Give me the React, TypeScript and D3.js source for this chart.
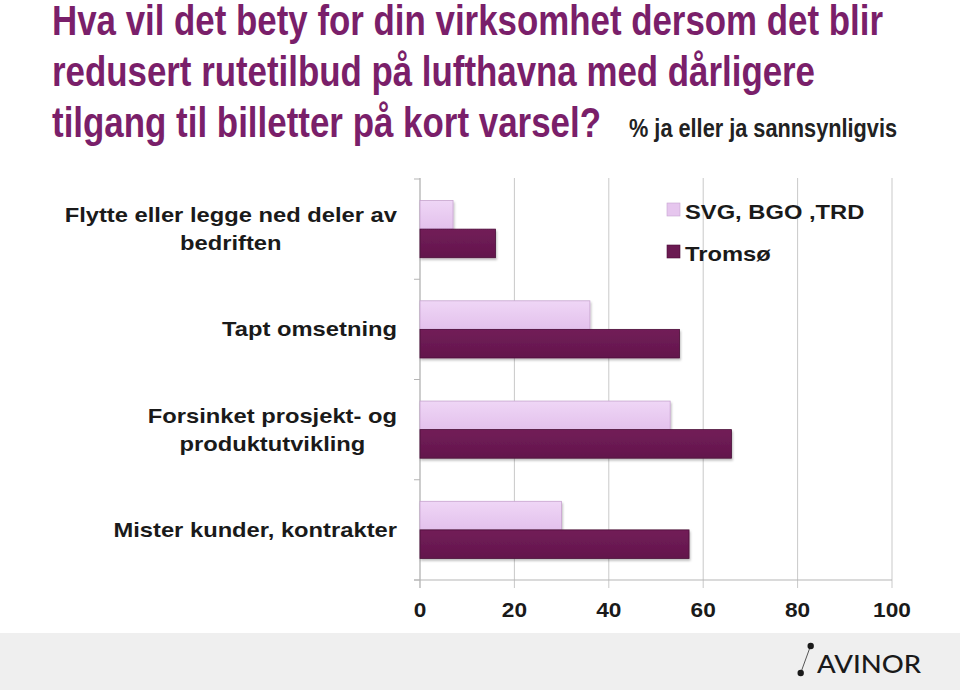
import React from "react";
import * as d3 from "d3";

const titleLines = [
  "Hva vil det bety for din virksomhet dersom det blir",
  "redusert rutetilbud på lufthavna med dårligere",
  "tilgang til billetter på kort varsel?",
];
const subtitle = "% ja eller ja sannsynligvis";
const categories = [
  "Flytte eller legge ned deler av\nbedriften",
  "Tapt omsetning",
  "Forsinket prosjekt- og\nproduktutvikling",
  "Mister kunder, kontrakter",
];
const seriesNames = ["SVG, BGO ,TRD", "Tromsø"];
const svgBgoTrd = [7, 36, 53, 30];
const tromso = [16, 55, 66, 57];
const xTicks = [0, 20, 40, 60, 80, 100];

const W = 960;
const H = 690;
const LABEL_FONT = "bold 21px 'Liberation Sans', Arial, Helvetica, sans-serif";
const FONT = "'Liberation Sans', Arial, Helvetica, sans-serif";
const NARROW = "'Liberation Sans Narrow', 'Arial Narrow', 'Liberation Sans', Arial, sans-serif";
const STRETCH = 1.13;

const measure = (() => {
  let ctx: CanvasRenderingContext2D | null = null;
  return (t: string) => {
    if (!ctx) {
      const c = document.createElement("canvas");
      ctx = c.getContext("2d");
    }
    if (!ctx) return t.length * 11;
    ctx.font = LABEL_FONT;
    return ctx.measureText(t).width;
  };
})();

export default function App() {
  const x = d3.scaleLinear().domain([0, 100]).range([420, 892]);
  const y = d3
    .scaleBand<number>()
    .domain(d3.range(categories.length))
    .range([179, 580])
    .paddingInner(0.43)
    .paddingOuter(0.215);
  const sub = d3.scaleBand<number>().domain([0, 1]).range([0, y.bandwidth()]);
  const step = y.step();
  const bandEdges = d3.range(categories.length + 1).map((i) => 179 + i * step);
  const series = [svgBgoTrd, tromso];
  const fills = ["url(#gLight)", "url(#gDark)"];
  const strokes = ["#c7a3cf", "#4a0d38"];
  const legendFills = ["#e6c6ee", "#6b1a52"];

  const titleWidths = [831, 763, 549];
  const titleBaselines = [35, 86, 137];

  return (
    <svg
      width={W}
      height={H}
      style={{ position: "absolute", left: 0, top: 0, background: "#fff" }}
    >
      <defs>
        <linearGradient id="gLight" x1="0" y1="0" x2="0" y2="1">
          <stop offset="0" stopColor="#efd6f6" />
          <stop offset="1" stopColor="#e3c1ec" />
        </linearGradient>
        <linearGradient id="gDark" x1="0" y1="0" x2="0" y2="1">
          <stop offset="0" stopColor="#721d58" />
          <stop offset="1" stopColor="#63164c" />
        </linearGradient>
        <filter id="shadow" x="-5%" y="-20%" width="115%" height="160%">
          <feDropShadow dx="1" dy="2" stdDeviation="1.2" floodColor="#000" floodOpacity="0.25" />
        </filter>
      </defs>

      {titleLines.map((t, i) => (
        <text
          key={i}
          x={52}
          y={titleBaselines[i]}
          fontFamily={NARROW}
          fontWeight="bold"
          fontSize={42}
          fill="#7a1f6a"
          textLength={titleWidths[i]}
          lengthAdjust="spacingAndGlyphs"
        >
          {t}
        </text>
      ))}
      <text
        x={629}
        y={137}
        fontFamily={NARROW}
        fontWeight="bold"
        fontSize={25}
        fill="#222"
        textLength={268}
        lengthAdjust="spacingAndGlyphs"
      >
        {subtitle}
      </text>

      {/* gridlines */}
      {xTicks.map((t) => (
        <line key={t} x1={x(t)} x2={x(t)} y1={178} y2={588} stroke="#c9c9c9" strokeWidth={1} />
      ))}
      {/* y axis */}
      <line x1={x(0)} x2={x(0)} y1={178} y2={588} stroke="#b5b5b5" strokeWidth={1} />
      {bandEdges.map((e, i) => (
        <line key={i} x1={414} x2={x(0)} y1={e} y2={e} stroke="#b5b5b5" strokeWidth={1} />
      ))}
      {/* x axis */}
      <line x1={414} x2={x(100)} y1={580} y2={580} stroke="#b5b5b5" strokeWidth={1} />

      {/* bars */}
      {categories.map((c, ci) =>
        series.map((s, si) => (
          <rect
            key={`${ci}-${si}`}
            x={x(0)}
            y={(y(ci) as number) + (sub(si) as number)}
            width={x(s[ci]) - x(0)}
            height={sub.bandwidth()}
            fill={fills[si]}
            stroke={strokes[si]}
            strokeWidth={0.8}
            filter="url(#shadow)"
          />
        ))
      )}

      {/* category labels */}
      {categories.map((c, ci) => {
        const lines = c.split("\n");
        const widths = lines.map((l) => measure(l) * STRETCH);
        const maxW = Math.max(...widths);
        const cx = 397 - maxW / 2;
        const center = (y(ci) as number) + y.bandwidth() / 2;
        const lh = 28;
        const y0 = center + 7 - ((lines.length - 1) * lh) / 2;
        return (
          <g key={ci}>
            {lines.map((l, li) => (
              <text
                key={li}
                x={cx - widths[li] / 2}
                y={y0 + li * lh}
                fontFamily={FONT}
                fontWeight="bold"
                fontSize={21}
                fill="#1a1a1a"
                textLength={widths[li]}
                lengthAdjust="spacingAndGlyphs"
              >
                {l}
              </text>
            ))}
          </g>
        );
      })}

      {/* tick labels */}
      {xTicks.map((t) => {
        const w = measure(String(t)) * 1.08;
        return (
          <text
            key={t}
            x={x(t) - w / 2}
            y={617}
            fontFamily={FONT}
            fontWeight="bold"
            fontSize={21}
            fill="#1a1a1a"
            textLength={w}
            lengthAdjust="spacingAndGlyphs"
          >
            {t}
          </text>
        );
      })}

      {/* legend */}
      {seriesNames.map((n, i) => (
        <g key={n}>
          <rect
            x={667}
            y={203 + i * 42}
            width={13}
            height={13}
            fill={legendFills[i]}
            stroke={strokes[i]}
            strokeWidth={0.6}
          />
          <text
            x={685}
            y={219 + i * 42}
            fontFamily={FONT}
            fontWeight="bold"
            fontSize={21}
            fill="#1a1a1a"
            textLength={measure(n) * STRETCH}
            lengthAdjust="spacingAndGlyphs"
          >
            {n}
          </text>
        </g>
      ))}

      {/* footer */}
      <rect x={0} y={633} width={W} height={H - 633} fill="#efefef" />
      <line x1={810.5} y1={646} x2={800.7} y2={673} stroke="#555" strokeWidth={1} />
      <circle cx={810.7} cy={646} r={3.2} fill="#1a1a1a" />
      <circle cx={800.7} cy={673} r={3.2} fill="#1a1a1a" />
      <text
        x={817}
        y={673}
        fontFamily="Lato, 'Noto Sans', sans-serif"
        fontWeight={500}
        fontSize={25}
        fill="#1a1a1a"
        textLength={104}
        lengthAdjust="spacingAndGlyphs"
      >
        AVINOR
      </text>
    </svg>
  );
}
